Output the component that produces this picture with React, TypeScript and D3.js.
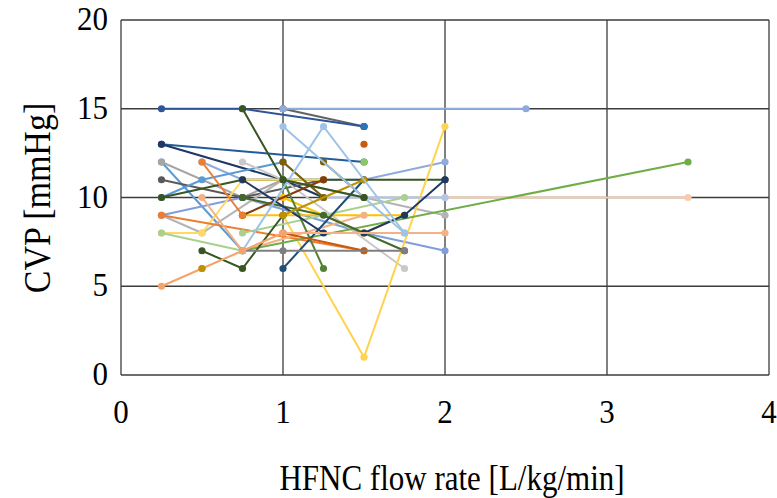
import React from "react";
import * as d3 from "d3";

type P = [number, number];
interface Series { color: string; pts: P[]; }

const xTicks = [0, 1, 2, 3, 4];
const yTicks = [0, 5, 10, 15, 20];
const xTitle = "HFNC flow rate [L/kg/min]";
const yTitle = "CVP [mmHg]";

const s01: P[] = [[0.25, 15], [0.75, 15], [1.5, 14]];
const s02: P[] = [[1, 15], [1.5, 14]];
const s03: P[] = [[1, 15], [2.5, 15]];
const s04: P[] = [[0.75, 15], [1, 11], [1.5, 10]];
const s05: P[] = [[0.75, 7], [1.25, 14], [1.75, 8]];
const s06: P[] = [[1, 14], [1.75, 8]];
const s07: P[] = [[1.5, 14]];
const s08: P[] = [[1.5, 13]];
const s09: P[] = [[0.25, 13], [1.5, 12]];
const s10: P[] = [[0.25, 13], [1, 11], [1.25, 10]];
const s11: P[] = [[1.5, 12]];
const s12: P[] = [[0.25, 12], [0.75, 10], [1, 11]];
const s13: P[] = [[0.25, 12], [0.75, 7]];
const s14: P[] = [[0.5, 12], [0.75, 11], [1.5, 11], [2, 12]];
const s15: P[] = [[0.25, 9], [0.75, 10], [1.5, 8], [2, 7]];
const s16: P[] = [[0.25, 11], [0.75, 10], [1.25, 11]];
const s17: P[] = [[0.25, 10], [0.5, 11], [1, 12], [1.25, 10]];
const s18: P[] = [[0.25, 10], [0.75, 11], [1.25, 11], [2, 11]];
const s19: P[] = [[0.75, 12], [1, 11], [1.75, 6]];
const s20: P[] = [[0.25, 9], [0.5, 8], [1, 11], [1.5, 10], [2, 9]];
const s21: P[] = [[0.25, 8], [0.5, 8], [0.75, 11], [1.25, 11]];
const s22: P[] = [[1, 9], [1.5, 1], [2, 14]];
const s23: P[] = [[0.75, 9], [1.75, 9]];
const s24: P[] = [[1, 10], [1.5, 8], [1.75, 9]];
const s25: P[] = [[0.75, 9], [1.25, 11]];
const s26: P[] = [[0.25, 9], [1.5, 7]];
const s27: P[] = [[0.5, 12], [0.75, 9]];
const s28: P[] = [[0.5, 10], [0.75, 7], [1.5, 9]];
const s29: P[] = [[2, 10], [3.5, 10]];
const s30: P[] = [[1.25, 10], [2, 10]];
const s31: P[] = [[0.75, 7], [3.5, 12]];
const s32: P[] = [[0.25, 8], [0.75, 7]];
const s33: P[] = [[0.75, 8], [1.75, 10]];
const s34: P[] = [[0.5, 7], [0.75, 6], [1, 9]];
const s35: P[] = [[1, 11], [1.25, 6]];
const s36: P[] = [[0.75, 10], [1.25, 9], [1.75, 7]];
const s37: P[] = [[1, 6], [1.5, 11]];
const s38: P[] = [[0.75, 11], [1.25, 8]];
const s39: P[] = [[1.5, 8], [1.75, 9], [2, 11]];
const s40: P[] = [[1, 8], [1.5, 7]];
const s41: P[] = [[1, 8], [2, 8]];
const s42: P[] = [[1, 12], [1.25, 10]];
const s43: P[] = [[1.25, 12], [1.5, 10]];
const s44: P[] = [[1, 9], [1.5, 11]];
const s45: P[] = [[0.75, 7], [1, 7], [1.75, 7]];
const s46: P[] = [[0.25, 5], [0.5, 6], [0.75, 7], [1, 8]];
const s47: P[] = [[0.5, 6]];

const series: Series[] = [
  { color: "#636363", pts: s02 },
  { color: "#2F5597", pts: s01 },
  { color: "#8FAADC", pts: s03 },
  { color: "#2E75B6", pts: s07 },
  { color: "#C55A11", pts: s08 },
  { color: "#1F5C99", pts: s09 },
  { color: "#203864", pts: s10 },
  { color: "#8CC864", pts: s11 },
  { color: "#5B9BD5", pts: s13 },
  { color: "#A5A5A5", pts: s12 },
  { color: "#8FAADC", pts: s14 },
  { color: "#7F9FD8", pts: s15 },
  { color: "#595959", pts: s16 },
  { color: "#5B9BD5", pts: s17 },
  { color: "#375623", pts: s18 },
  { color: "#C9C9C9", pts: s19 },
  { color: "#B4B4B4", pts: s20 },
  { color: "#FFD966", pts: s21 },
  { color: "#FFD34D", pts: s22 },
  { color: "#FFC000", pts: s23 },
  { color: "#FFC000", pts: s24 },
  { color: "#843C0C", pts: s25 },
  { color: "#ED7D31", pts: s26 },
  { color: "#ED7D31", pts: s27 },
  { color: "#F4B183", pts: s28 },
  { color: "#F8CBAD", pts: s29 },
  { color: "#B4C7E7", pts: s30 },
  { color: "#70AD47", pts: s31 },
  { color: "#A9D18E", pts: s32 },
  { color: "#A9D18E", pts: s33 },
  { color: "#375623", pts: s34 },
  { color: "#548235", pts: s35 },
  { color: "#43682B", pts: s36 },
  { color: "#1F4E79", pts: s37 },
  { color: "#203864", pts: s38 },
  { color: "#1F3864", pts: s39 },
  { color: "#C55A11", pts: s40 },
  { color: "#F4B183", pts: s41 },
  { color: "#7F6000", pts: s42 },
  { color: "#7F6000", pts: s43 },
  { color: "#BF9000", pts: s44 },
  { color: "#7F7F7F", pts: s45 },
  { color: "#9DC3E6", pts: s05 },
  { color: "#9DC3E6", pts: s06 },
  { color: "#F4A46A", pts: s46 },
  { color: "#BF9000", pts: s47 },
  { color: "#375623", pts: s04 },
];

const W = 777;
const H = 498;
const x = d3.scaleLinear().domain([0, 4]).range([121, 769]);
const y = d3.scaleLinear().domain([0, 20]).range([375, 20]);

export default function App() {
  const line = d3
    .line<P>()
    .x((d) => x(d[0]))
    .y((d) => y(d[1]));
  const font = "'Liberation Serif', 'Times New Roman', serif";
  return (
    <svg
      width={W}
      height={H}
      style={{ position: "absolute", left: 0, top: 0, background: "#fff" }}
    >
      <rect x={0} y={0} width={W} height={H} fill="#fff" />
      {yTicks.map((t) => (
        <line
          key={"gy" + t}
          x1={x(0)}
          x2={x(4)}
          y1={y(t)}
          y2={y(t)}
          stroke="#3c3c3c"
          strokeWidth={1.3}
        />
      ))}
      {xTicks.map((t) => (
        <line
          key={"gx" + t}
          x1={x(t)}
          x2={x(t)}
          y1={y(0)}
          y2={y(20)}
          stroke="#3c3c3c"
          strokeWidth={1.3}
        />
      ))}
      {series.map((s, i) => (
        <g key={"s" + i}>
          {s.pts.length > 1 && (
            <path d={line(s.pts) || ""} fill="none" stroke={s.color} strokeWidth={2} />
          )}
          {s.pts.map((p, j) => (
            <circle key={j} cx={x(p[0])} cy={y(p[1])} r={3.6} fill={s.color} />
          ))}
        </g>
      ))}
      {yTicks.map((t) => (
        <text
          key={"ty" + t}
          transform={`translate(108,${y(t) + 10}) scale(1,1.12)`}
          textAnchor="end"
          fontFamily={font}
          fontSize={31}
          fill="#000"
        >
          {t}
        </text>
      ))}
      {xTicks.map((t) => (
        <text
          key={"tx" + t}
          transform={`translate(${x(t)},${423}) scale(1,1.12)`}
          textAnchor="middle"
          fontFamily={font}
          fontSize={31}
          fill="#000"
        >
          {t}
        </text>
      ))}
      <text
        transform="translate(452,490) scale(1,1.15)"
        textAnchor="middle"
        fontFamily={font}
        fontSize={31}
        fill="#000"
      >
        {xTitle}
      </text>
      <text
        transform={`translate(50,198) rotate(-90) scale(1,1.1)`}
        textAnchor="middle"
        fontFamily={font}
        fontSize={34}
        fill="#000"
      >
        {yTitle}
      </text>
    </svg>
  );
}
